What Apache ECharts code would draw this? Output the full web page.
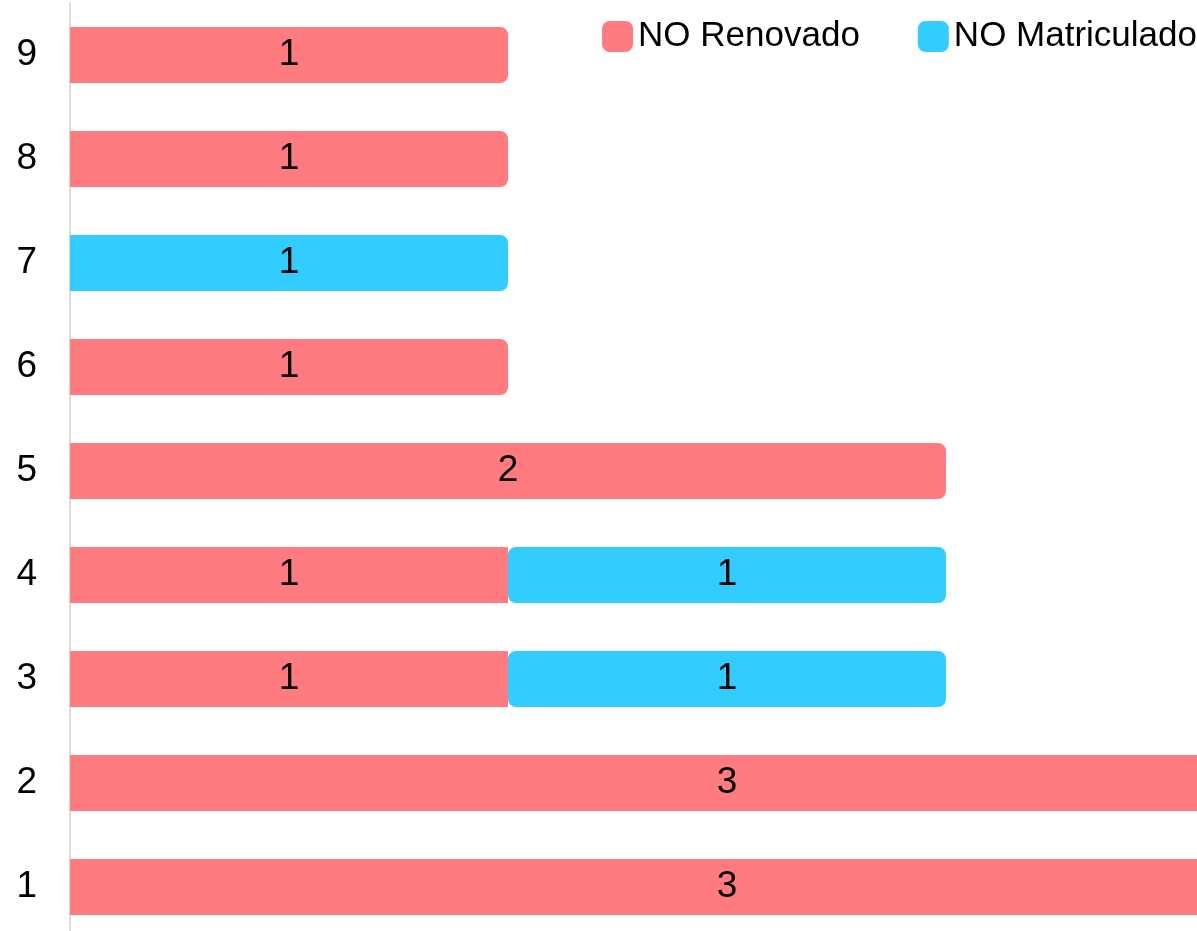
<!DOCTYPE html>
<html>
<head>
<meta charset="utf-8">
<script src="https://cdn.jsdelivr.net/npm/echarts@6/dist/echarts.min.js"></script>
<style>
html,body{margin:0;padding:0;background:#fff;}
#chart{width:1197px;height:931px;}
</style>
</head>
<body>
<div id="chart"></div>
<script>
var categories = ['1','2','3','4','5','6','7','8','9'];
var noRenovado = [3,3,1,1,2,1,0,1,1];
var noMatriculado = [0,0,1,1,0,0,1,0,0];
var seriesNames = ['NO Renovado','NO Matriculado'];

var RED = '#ff7b7f';
var BLUE = '#33ccff';
var R = 8;

function redData(){
  return noRenovado.map(function(v,i){
    if(!v) return null;
    var rad = noMatriculado[i] ? [0,0,0,0] : [0,R,R,0];
    return {value:v, itemStyle:{borderRadius:rad}};
  });
}
function blueData(){
  return noMatriculado.map(function(v,i){
    if(!v) return null;
    var rad = noRenovado[i] ? [R,R,R,R] : [0,R,R,0];
    return {value:v, itemStyle:{borderRadius:rad}};
  });
}

var chart = echarts.init(document.getElementById('chart'), null, {renderer:'canvas'});
var font = '"Liberation Sans", Arial, sans-serif';
var option = {
  animation:false,
  textStyle:{fontFamily:font},
  legend:{
    data:seriesNames,
    right:0, top:19, width:700, padding:0,
    itemWidth:31, itemHeight:31, itemGap:58,
    icon:'roundRect',
    textStyle:{fontSize:35, color:'#000', fontFamily:font}
  },
  grid:{left:70, top:3, width:1314, height:936, containLabel:false, outerBoundsMode:'none'},
  xAxis:{
    type:'value', min:0, max:3,
    show:false
  },
  yAxis:{
    type:'category', data:categories,
    axisLine:{show:true, lineStyle:{color:'#dcdcdc', width:2}},
    axisTick:{show:false},
    axisLabel:{fontSize:37, color:'#000', margin:33, fontFamily:font},
    splitLine:{show:false}
  },
  series:[
    {
      name:seriesNames[0], type:'bar', stack:'a', barWidth:56,
      itemStyle:{color:RED},
      label:{show:true, position:'inside', fontSize:37, color:'#000', fontFamily:font},
      data:redData()
    },
    {
      name:seriesNames[1], type:'bar', stack:'a', barWidth:56,
      itemStyle:{color:BLUE},
      label:{show:true, position:'inside', fontSize:37, color:'#000', fontFamily:font},
      data:blueData()
    }
  ]
};
chart.setOption(option);
</script>
</body>
</html>
